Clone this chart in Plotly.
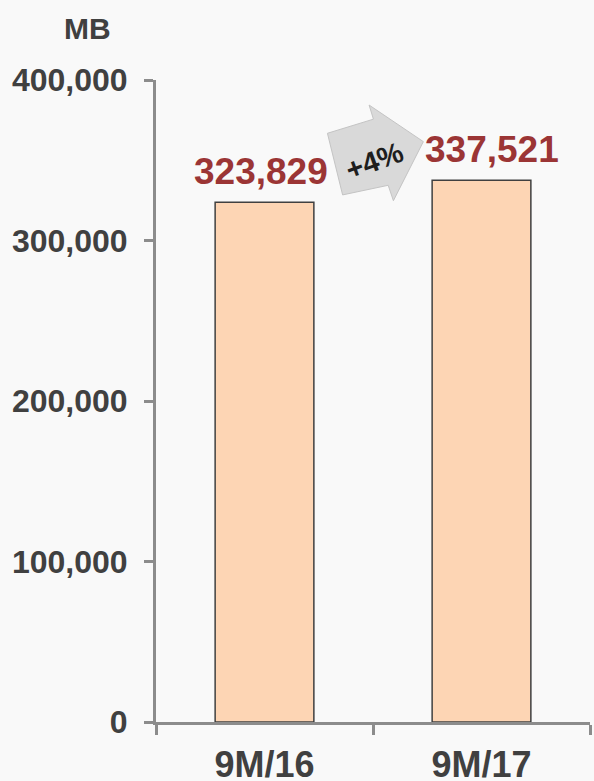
import plotly.graph_objects as go

periods = ["9M/16", "9M/17"]
volumes = [323829, 337521]
y_ticks = [0, 100000, 200000, 300000, 400000]
growth_label = "+4%"
unit_label = "MB"

FONT = "Arial, Liberation Sans, sans-serif"
GREY_TEXT = "#404040"

fig = go.Figure()

fig.add_trace(go.Bar(
    x=periods,
    y=volumes,
    width=0.455,
    marker=dict(color="#fdd5b4", line=dict(color="#404040", width=1.5)),
    hoverinfo="skip",
))

# value labels above bars
for p, v, dx in zip(periods, volumes, [-4, 10]):
    fig.add_annotation(
        x=p, y=v, text=f"<b>{v:,}</b>", showarrow=False,
        yanchor="bottom", yshift=8, xshift=dx,
        font=dict(family=FONT, size=37, color="#9b3535"),
    )

# growth arrow between the bars (paper coords)
fig.add_shape(
    type="path",
    xref="paper", yref="paper",
    path="M 0.395 0.917 L 0.501 0.939 L 0.491 0.961 L 0.616 0.904 "
         "L 0.547 0.812 L 0.535 0.836 L 0.430 0.821 Z",
    fillcolor="#d9d9d9",
    line=dict(color="#c4c4c4", width=1),
    layer="above",
)
fig.add_annotation(
    xref="paper", yref="paper", x=0.503, y=0.874,
    xanchor="center", yanchor="middle",
    text=f"<b>{growth_label}</b>", showarrow=False, textangle=-20,
    font=dict(family=FONT, size=29, color="#1e1e1e"),
)

fig.add_annotation(
    xref="paper", yref="paper", x=-0.157, y=1.0, yshift=52,
    xanchor="center", yanchor="middle",
    text=f"<b>{unit_label}</b>", showarrow=False,
    font=dict(family=FONT, size=30, color=GREY_TEXT),
)

fig.update_layout(
    width=594, height=781,
    margin=dict(l=156, r=4, t=80, b=59),
    paper_bgcolor="#f9f9f9",
    plot_bgcolor="#f9f9f9",
    showlegend=False,
    font=dict(family=FONT, color=GREY_TEXT),
)

fig.update_yaxes(
    range=[0, 400000],
    tickvals=y_ticks,
    ticktext=[f"<b>{t:,}</b>" for t in y_ticks],
    tickfont=dict(family=FONT, size=32, color=GREY_TEXT),
    showgrid=False, zeroline=False,
    showline=True, linecolor="#8c8c8c", linewidth=3,
    ticks="outside", ticklen=9, tickwidth=3, tickcolor="#8c8c8c",
    ticklabelstandoff=10, automargin=False,
)
fig.update_xaxes(
    tickvals=periods,
    ticktext=[f"<b>{p}</b>" for p in periods],
    tickfont=dict(family=FONT, size=36, color=GREY_TEXT),
    showgrid=False,
    showline=True, linecolor="#8c8c8c", linewidth=3,
    ticks="outside", tickson="boundaries", ticklen=10, tickwidth=3, tickcolor="#8c8c8c",
    ticklabelstandoff=9, automargin=False,
)

fig.write_html("out.html", config={"displayModeBar": False},
               post_script="document.body.style.margin='0';")
